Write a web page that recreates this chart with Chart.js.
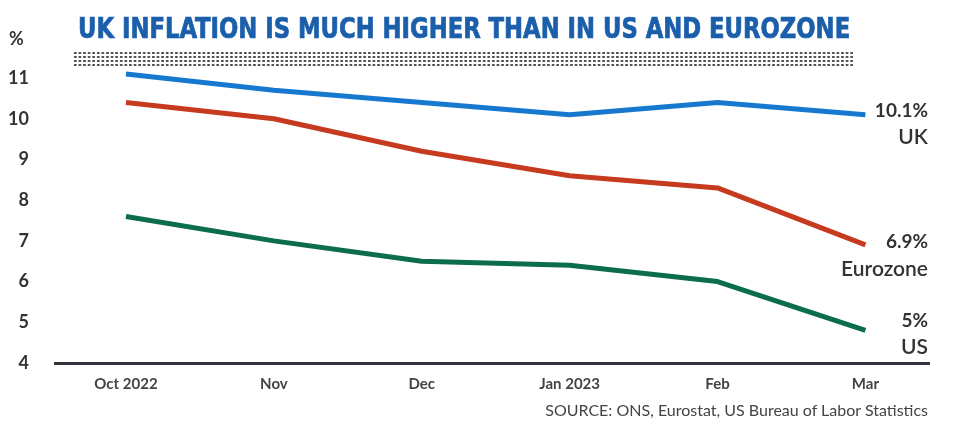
<!DOCTYPE html>
<html>
<head>
<meta charset="utf-8">
<script src="https://cdn.jsdelivr.net/npm/chart.js@4"></script>
<style>
  html, body { margin: 0; padding: 0; background: #fff; }
  #wrap { position: relative; width: 959px; height: 429px; overflow: hidden; }
  #title {
    position: absolute; left: 78px; top: 12px;
    font-family: 'DejaVu Sans', sans-serif; font-stretch: condensed;
    font-weight: bold; font-size: 28px; line-height: 34px; color: #1b5fab;
    -webkit-text-stroke: 0.7px #1b5fab;
    white-space: nowrap; transform-origin: left top;
  }
  #dots {
    position: absolute; left: 73px; top: 51px; width: 780px; height: 16px;
    background-image: radial-gradient(circle, #4a4a4a 1px, transparent 1.4px);
    background-size: 4.6px 4px;
  }
  #pct {
    position: absolute; left: 9px; top: 27px;
    font-family: Lato, sans-serif; font-weight: bold; font-size: 18px; color: #333;
  }
  #source {
    position: absolute; right: 31px; top: 400px;
    font-family: Lato, sans-serif; font-size: 16px; color: #444;
  }
  canvas { position: absolute; left: 0; top: 0; }
</style>
</head>
<body>
<div id="wrap">
  <canvas id="chart" width="959" height="429"></canvas>
  <div id="title">UK INFLATION IS MUCH HIGHER THAN IN US AND EUROZONE</div>
  <div id="dots"></div>
  <div id="pct">%</div>
  <div id="source">SOURCE: ONS, Eurostat, US Bureau of Labor Statistics</div>
</div>
<script>
const months = ['Oct 2022', 'Nov', 'Dec', 'Jan 2023', 'Feb', 'Mar'];
const ukValues = [11.1, 10.7, 10.4, 10.1, 10.4, 10.1];
const eurozoneValues = [10.4, 10.0, 9.2, 8.6, 8.3, 6.9];
const usValues = [7.6, 7.0, 6.5, 6.4, 6.0, 4.8];
const yTicks = [4, 5, 6, 7, 8, 9, 10, 11];
const endLabels = [
    { value: '10.1%', name: 'UK', series: 0 },
    { value: '6.9%', name: 'Eurozone', series: 1 },
    { value: '5%', name: 'US', series: 2 },
];

// fit the title to its width in the reference
const title = document.getElementById('title');
title.style.transform = 'scaleX(' + (772 / title.offsetWidth) + ')';

function toPoints(values) {
    return values.map((v, i) => ({ x: i, y: v }));
}

const labelOffsets = [-4, -3, -10];

const endLabelPlugin = {
    id: 'endLabels',
    afterDatasetsDraw(chart) {
        const ctx = chart.ctx;
        const yScale = chart.scales.y;
        ctx.save();
        ctx.fillStyle = '#333';
        ctx.textAlign = 'right';
        ctx.textBaseline = 'middle';
        endLabels.forEach((lab, i) => {
            const data = chart.data.datasets[lab.series].data;
            const y = yScale.getPixelForValue(data[data.length - 1].y) + labelOffsets[i];
            ctx.font = 'bold 19px Lato';
            ctx.fillText(lab.value, 928, y);
            ctx.font = '600 21px Lato';
            ctx.fillText(lab.name, 928, y + 27);
        });
        ctx.restore();
    }
};

new Chart(document.getElementById('chart'), {
    type: 'line',
    data: {
        datasets: [
            { label: 'UK', data: toPoints(ukValues), borderColor: '#1679cf' },
            { label: 'Eurozone', data: toPoints(eurozoneValues), borderColor: '#c63a1f' },
            { label: 'US', data: toPoints(usValues), borderColor: '#0c6d4d' },
        ],
    },
    options: {
        responsive: false,
        animation: false,
        layout: { padding: { top: 78, right: 30, left: 0, bottom: 0 } },
        elements: {
            line: { borderWidth: 5, tension: 0, borderJoinStyle: 'round', borderCapStyle: 'butt', fill: false },
            point: { radius: 0 },
        },
        datasets: { line: { clip: false } },
        plugins: {
            legend: { display: false },
            tooltip: { enabled: false },
        },
        scales: {
            x: {
                type: 'linear',
                min: -0.48,
                max: 5.43,
                grid: { display: false, drawTicks: false },
                border: { display: true, color: '#34343c', width: 3 },
                afterBuildTicks: scale => { scale.ticks = months.map((m, i) => ({ value: i })); },
                afterFit: scale => { scale.height = 66; },
                ticks: {
                    padding: 12,
                    maxRotation: 0,
                    color: '#444',
                    font: { family: 'Lato', size: 15, weight: 'bold' },
                    callback: value => months[value],
                },
            },
            y: {
                min: 4,
                max: 11,
                grid: { display: false, drawTicks: false },
                border: { display: false },
                afterBuildTicks: scale => { scale.ticks = yTicks.map(v => ({ value: v })); },
                afterFit: scale => { scale.width = 55; },
                ticks: {
                    padding: 26,
                    color: '#333',
                    font: { family: 'Lato', size: 18, weight: 'bold' },
                },
            },
        },
    },
    plugins: [endLabelPlugin],
});
</script>
</body>
</html>
